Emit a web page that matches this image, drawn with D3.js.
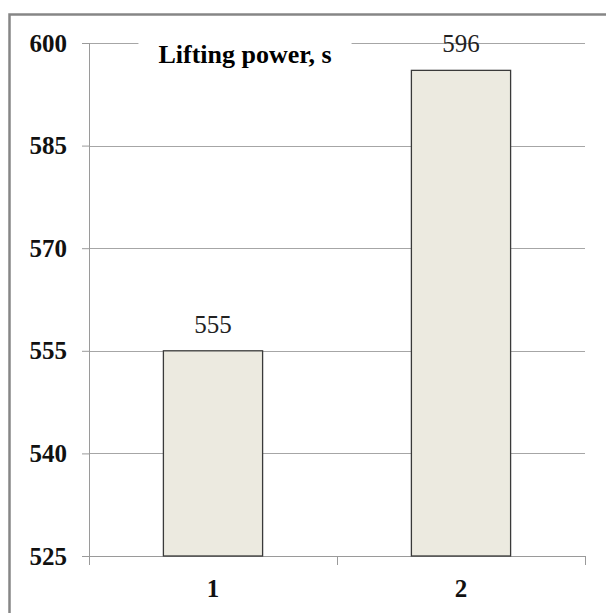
<!DOCTYPE html>
<html lang="en">
<head>
  <meta charset="UTF-8">
  <title>Lifting power</title>
  <script src="https://d3js.org/d3.v7.min.js"></script>
  <style>
    body { margin: 0; background: #fff; }
    text { font-family: "Liberation Serif", "Times New Roman", serif; }
  </style>
</head>
<body>
<svg id="chart" width="606" height="613"></svg>

<script>
const categories = ["1", "2"];
const values = [555, 596];
const yTicks = [525, 540, 555, 570, 585, 600];
const title = "Lifting power, s";

const svg = d3.select("#chart");
const width = +svg.attr("width");
const height = +svg.attr("height");
const margin = { top: 43, right: 21, bottom: 57, left: 89 };
const innerWidth = width - margin.left - margin.right;
const innerHeight = height - margin.top - margin.bottom;

// outer frame (runs off the right and bottom edges)
svg.append("rect")
  .attr("x", 9.5).attr("y", 14.5)
  .attr("width", 700).attr("height", 700)
  .attr("fill", "none")
  .attr("stroke", "#868686")
  .attr("stroke-width", 2.5);

const g = svg.append("g").attr("transform", `translate(${margin.left},${margin.top})`);

const x = d3.scaleBand().domain(categories).range([0, innerWidth])
  .paddingInner(0.6).paddingOuter(0.3);
const y = d3.scaleLinear().domain([525, 600]).range([innerHeight, 0]);

// gridlines
g.append("g")
  .selectAll("line")
  .data(yTicks.slice(1))
  .join("line")
  .attr("x1", 0).attr("x2", innerWidth)
  .attr("y1", d => Math.round(y(d)) + 0.5).attr("y2", d => Math.round(y(d)) + 0.5)
  .attr("stroke", "#a6a6a6");

// y axis
const yAxis = g.append("g")
  .call(d3.axisLeft(y).tickValues(yTicks).tickSize(7).tickPadding(15));
yAxis.select(".domain").attr("stroke", "#9a9a9a").attr("d", `M0.5,0V${innerHeight}`);
yAxis.selectAll(".tick line").attr("stroke", "#9a9a9a");
yAxis.selectAll(".tick text")
  .attr("font-family", "Liberation Serif, serif")
  .attr("font-size", 25)
  .attr("font-weight", "bold")
  .attr("fill", "#111");

// x axis with ticks between categories
const xAxis = g.append("g").attr("transform", `translate(0,${innerHeight})`);
xAxis.append("line")
  .attr("x1", 0).attr("x2", innerWidth)
  .attr("y1", 0.5).attr("y2", 0.5)
  .attr("stroke", "#9a9a9a");
const step = x.step();
xAxis.selectAll(".sep")
  .data(d3.range(categories.length + 1))
  .join("line")
  .attr("class", "sep")
  .attr("x1", i => Math.round(i * step) + 0.5)
  .attr("x2", i => Math.round(i * step) + 0.5)
  .attr("y1", 0).attr("y2", 9)
  .attr("stroke", "#9a9a9a");
xAxis.selectAll(".cat")
  .data(categories)
  .join("text")
  .attr("class", "cat")
  .attr("x", d => x(d) + x.bandwidth() / 2)
  .attr("y", 41)
  .attr("text-anchor", "middle")
  .attr("font-size", 25)
  .attr("font-weight", "bold")
  .attr("fill", "#111")
  .text(d => d);

// bars
g.selectAll(".bar")
  .data(values)
  .join("rect")
  .attr("class", "bar")
  .attr("x", (d, i) => x(categories[i]))
  .attr("y", d => y(d))
  .attr("width", x.bandwidth())
  .attr("height", d => innerHeight - y(d))
  .attr("fill", "#ecEAE0")
  .attr("stroke", "#3a3a3a")
  .attr("stroke-width", 1.3);

// value labels
g.selectAll(".val")
  .data(values)
  .join("text")
  .attr("class", "val")
  .attr("x", (d, i) => x(categories[i]) + x.bandwidth() / 2)
  .attr("y", d => y(d) - 18)
  .attr("text-anchor", "middle")
  .attr("font-size", 25)
  .attr("fill", "#222")
  .text(d => d);

// title with white backing
const titleText = svg.append("text")
  .attr("x", 245)
  .attr("y", 63)
  .attr("text-anchor", "middle")
  .attr("font-size", 26)
  .attr("font-weight", "bold")
  .attr("fill", "#000")
  .text(title);
const bb = titleText.node().getBBox();
svg.insert("rect", () => titleText.node())
  .attr("x", bb.x - 20).attr("y", bb.y)
  .attr("width", bb.width + 40).attr("height", bb.height)
  .attr("fill", "#fff");
</script>
</body>
</html>
